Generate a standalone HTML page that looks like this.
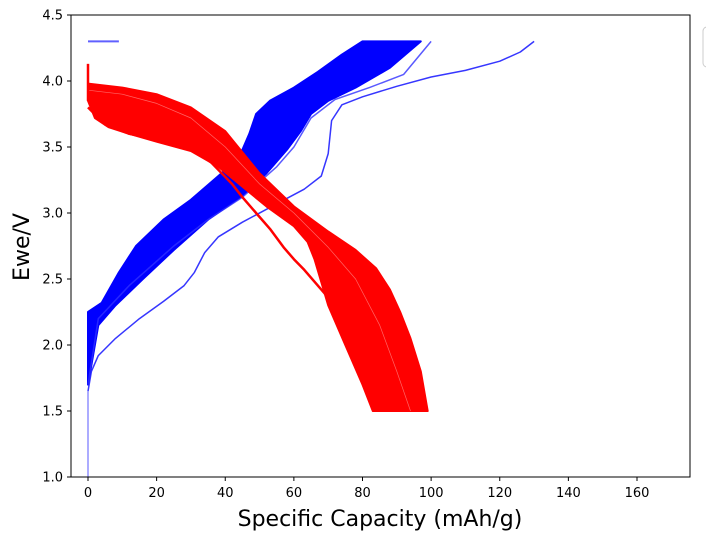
<!DOCTYPE html>
<html><head><meta charset="utf-8"><style>
body{margin:0;background:#fff;font-family:"DejaVu Sans","Liberation Sans",sans-serif}
svg text{font-family:"DejaVu Sans","Liberation Sans",sans-serif}
</style></head><body>
<svg id="c" width="706" height="539">
<g id="marks"></g>
<g id="axes"></g>
<rect x="703" y="27" width="20" height="40" rx="4" fill="#fff" stroke="#ccc"/>
<text x="380" y="526" font-size="22" text-anchor="middle">Specific Capacity (mAh/g)</text>
<text transform="translate(29,247) rotate(-90)" font-size="22" text-anchor="middle">Ewe/V</text>
</svg>
<script>
const xTicks=[0,20,40,60,80,100,120,140,160];
const yTicks=[1.0,1.5,2.0,2.5,3.0,3.5,4.0,4.5];
const blueFirst=[[0,1.65],[1,1.8],[3,1.92],[8,2.05],[15,2.2],[22,2.33],[28,2.45],[31,2.55],[34,2.7],[38,2.82],[45,2.93],[55,3.07],[63,3.18],[68,3.28],[70,3.45],[71,3.7],[74,3.82],[80,3.88],[90,3.96],[100,4.03],[110,4.08],[120,4.15],[126,4.22],[130,4.3]];
const blueLeft=[[0,1.7],[0,2.25],[4,2.32],[9,2.55],[14,2.75],[22,2.95],[30,3.1],[38,3.28],[44,3.42],[47,3.6],[49,3.75],[53,3.85],[60,3.95],[67,4.07],[74,4.2],[80,4.3]];
const blueRight=[[0,1.7],[3,2.15],[8,2.3],[16,2.5],[25,2.72],[35,2.95],[45,3.13],[52,3.3],[58,3.48],[62,3.62],[65,3.75],[70,3.85],[78,3.95],[88,4.1],[97,4.3]];
const blueOut=[[0,1.7],[3,2.2],[12,2.45],[25,2.75],[35,2.95],[45,3.12],[55,3.35],[60,3.5],[65,3.72],[72,3.86],[82,3.95],[92,4.05],[100,4.3]];
const redTop=[[0,3.98],[10,3.95],[20,3.9],[30,3.8],[40,3.62],[50,3.3],[60,3.05],[70,2.86],[78,2.72],[84,2.58],[88,2.42],[91,2.25],[94,2.05],[97,1.8],[99,1.5]];
const redBottom=[[0,3.85],[2,3.72],[6,3.65],[12,3.6],[20,3.54],[30,3.47],[38,3.35],[45,3.2],[52,3.05],[60,2.9],[64,2.78],[66,2.65],[70,2.3],[75,2.0],[80,1.7],[83,1.5]];
const redOdd=[[0,3.8],[5,3.67],[12,3.6],[22,3.55],[30,3.5],[36,3.38],[42,3.22],[45,3.12],[49,3.0],[53,2.88],[57,2.74],[60,2.65],[63,2.57],[68,2.42],[72,2.3]];
const redMid=[[0,3.93],[10,3.9],[20,3.83],[30,3.72],[40,3.5],[50,3.22],[60,3.0],[70,2.74],[78,2.5],[85,2.15],[90,1.8],[94,1.5]];
const X=v=>88+v*(549/160), Y=v=>477-(v-1)*132;
const NS='http://www.w3.org/2000/svg';
const marks=document.getElementById('marks'), axes=document.getElementById('axes');
function mk(t,a,p){const e=document.createElementNS(NS,t);for(const k in a)e.setAttribute(k,a[k]);(p||marks).appendChild(e);return e;}
const pts=a=>a.map(p=>X(p[0]).toFixed(1)+','+Y(p[1]).toFixed(1)).join(' ');
function band(a,b,col,name){
 const e=mk('polygon',{points:pts(a)+' '+pts(b.slice().reverse()),fill:col,stroke:col,'stroke-width':2,'stroke-linejoin':'round'});
 
 
}
function line(a,col,w,name,op){
 const e=mk('polyline',{points:pts(a),fill:'none',stroke:col,'stroke-width':w,opacity:op||1,'stroke-linejoin':'round'});
 
 
}
band(blueLeft,blueRight,'#0000ff','charge-band');
line(blueOut,'#3030ff',1.5,'charge-curve-outlier',0.8);
line(blueFirst,'#2020ff',1.5,'charge-curve-first',0.9);
const v=mk('line',{x1:X(0),y1:Y(1.65),x2:X(0),y2:Y(1.0),stroke:'#9090ff','stroke-width':1.5});


const h=mk('line',{x1:X(0),y1:Y(4.3),x2:X(9),y2:Y(4.3),stroke:'#6060ff','stroke-width':2});


band(redTop,redBottom,'#ff0000','discharge-band');
line(redMid,'#ffffff',0.7,'discharge-gap',0.4);
line(redOdd,'#ff0000',2.5,'discharge-curve-outlier');
const s=mk('line',{x1:X(0),y1:Y(4.13),x2:X(0),y2:Y(3.85),stroke:'#ff0000','stroke-width':2.5});


const fr=mk('rect',{x:71,y:15,width:619,height:462,fill:'none',stroke:'#000','stroke-width':1},axes);


xTicks.forEach(t=>{
 const l=mk('line',{x1:X(t),x2:X(t),y1:477,y2:481,stroke:'#000'},axes);
 
 
 const tx=mk('text',{x:X(t),y:497,'font-size':13,'text-anchor':'middle'},axes);tx.textContent=t;
 
 
});
yTicks.forEach(t=>{
 const l=mk('line',{x1:67,x2:71,y1:Y(t),y2:Y(t),stroke:'#000'},axes);
 
 
 const tx=mk('text',{x:63,y:Y(t)+4.5,'font-size':13,'text-anchor':'end'},axes);tx.textContent=t.toFixed(1);
 
 
});
</script>
</body></html>
